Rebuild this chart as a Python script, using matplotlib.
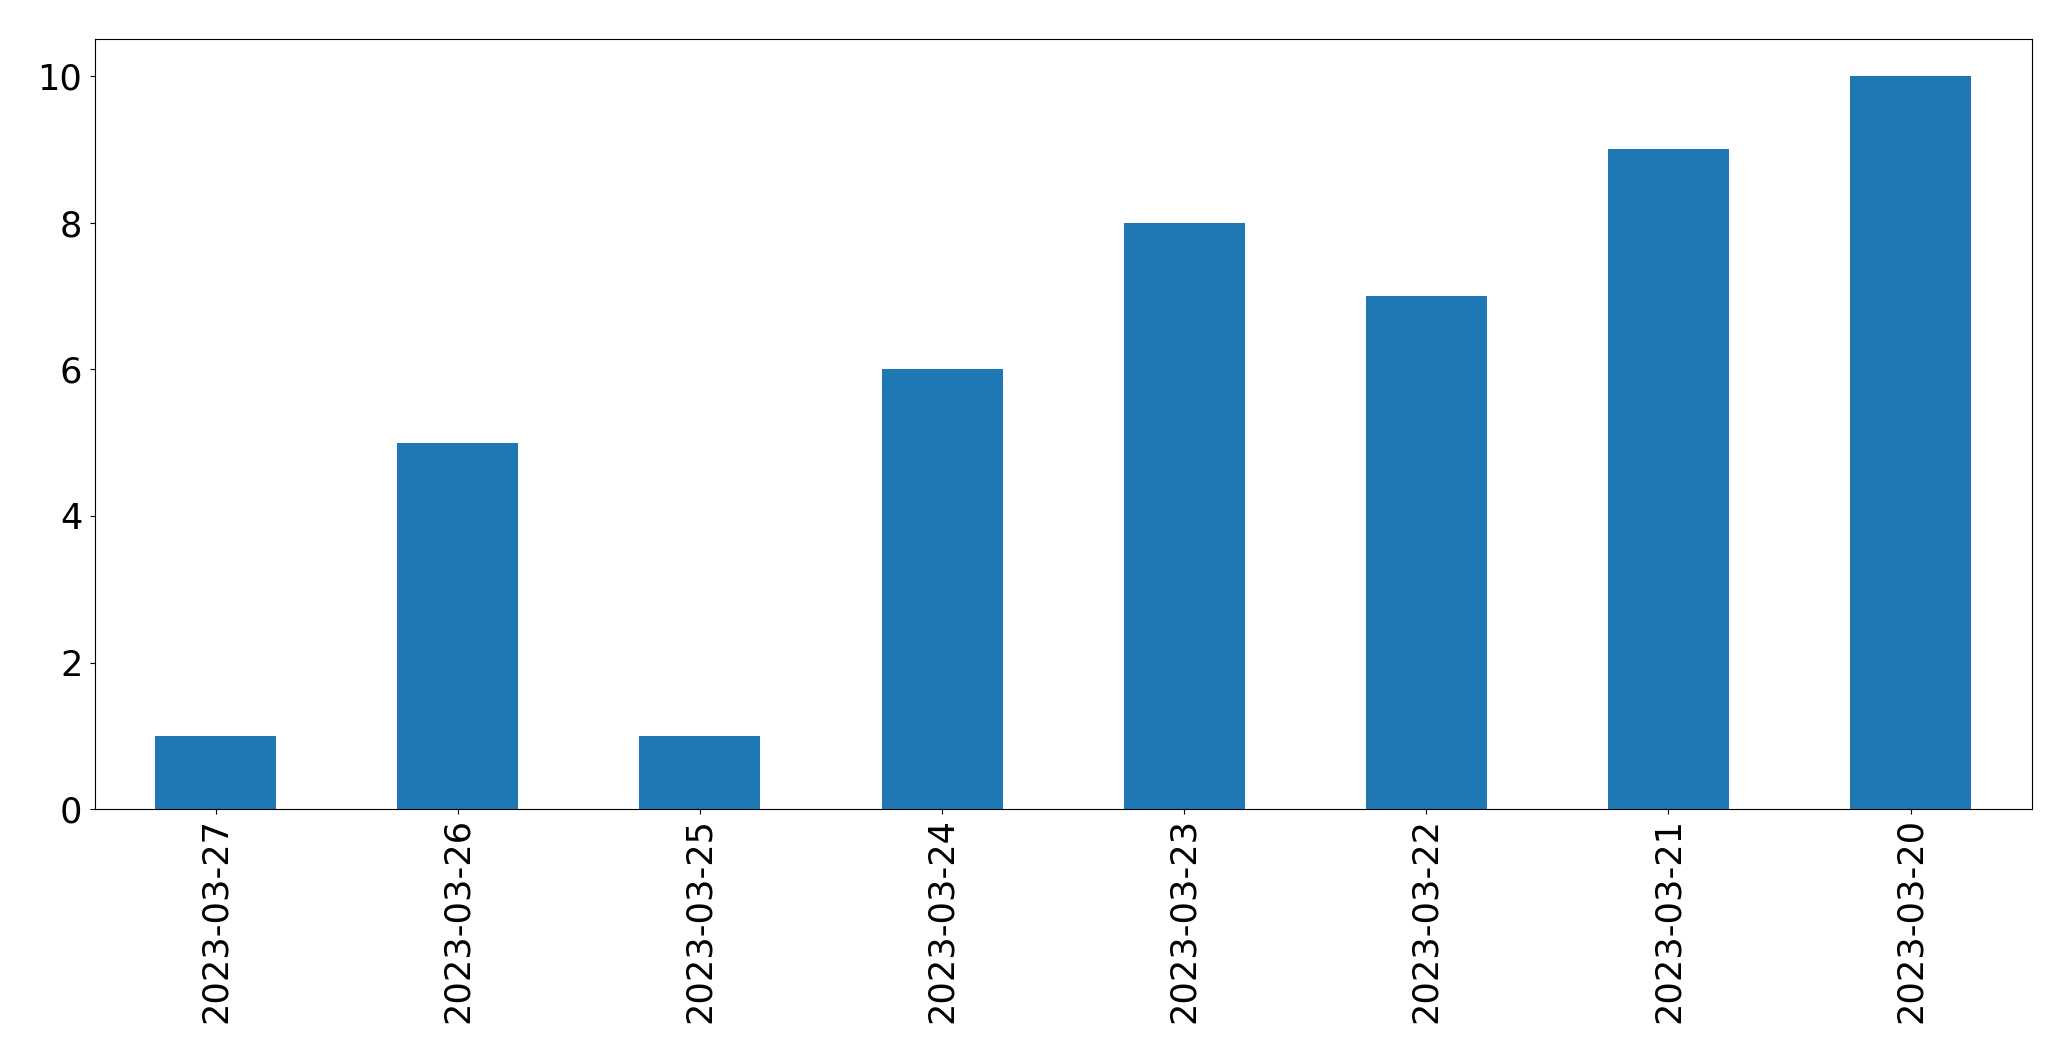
import pandas as pd
import matplotlib
matplotlib.use("Agg")
import matplotlib.pyplot as plt

# data
dates = ["2023-03-27", "2023-03-26", "2023-03-25", "2023-03-24",
         "2023-03-23", "2023-03-22", "2023-03-21", "2023-03-20"]
counts = [1, 5, 1, 6, 8, 7, 9, 10]

series = pd.Series(counts, index=dates)

fig, ax = plt.subplots(figsize=(20.71, 10.61), dpi=100)
series.plot(kind="bar", ax=ax, color="#1f77b4", width=0.5)

ax.set_ylim(0, 10.5)
ax.set_yticks([0, 2, 4, 6, 8, 10])
ax.tick_params(axis="both", labelsize=25.3, length=3.8)
ax.tick_params(axis="y", pad=5.0)
ax.tick_params(axis="x", pad=2.5)
plt.setp(ax.get_xticklabels(), rotation=90)

fig.subplots_adjust(left=0.0457, right=0.981, top=0.963, bottom=0.2372)
fig.savefig("out.png", dpi=100)
plt.close(fig)
